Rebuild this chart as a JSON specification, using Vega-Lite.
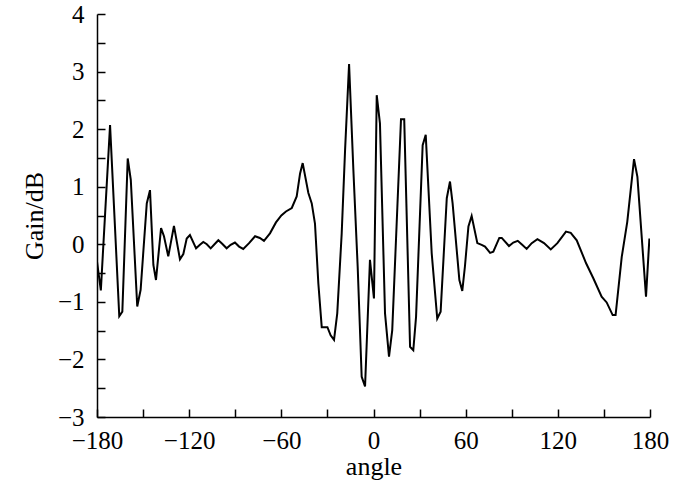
{
  "$schema": "https://vega.github.io/schema/vega-lite/v6.json",
  "autosize": "none",
  "width": 553,
  "height": 403,
  "padding": {"left": 97, "top": 14, "right": 50, "bottom": 73},
  "background": "white",
  "config": {
    "view": {"stroke": null},
    "font": "Liberation Serif",
    "axis": {"grid": false, "domainColor": "black", "tickColor": "black", "labelColor": "black", "titleColor": "black", "labelFont": "Liberation Serif", "titleFont": "Liberation Serif", "labelFontSize": 25, "titleFontSize": 26, "titleFontWeight": "normal", "domainWidth": 1.5, "tickWidth": 1.5}
  },
  "data": {"values": [
    {"angle": -180, "gain": -0.3},
    {"angle": -177.5, "gain": -0.8},
    {"angle": -171.5, "gain": 2.07},
    {"angle": -165.5, "gain": -1.25},
    {"angle": -163.5, "gain": -1.17},
    {"angle": -160, "gain": 1.49},
    {"angle": -158, "gain": 1.12},
    {"angle": -153.8, "gain": -1.08},
    {"angle": -151.6, "gain": -0.79},
    {"angle": -147.6, "gain": 0.71},
    {"angle": -145.5, "gain": 0.94},
    {"angle": -143.3, "gain": -0.36},
    {"angle": -141.6, "gain": -0.62},
    {"angle": -138.3, "gain": 0.28},
    {"angle": -136.4, "gain": 0.14},
    {"angle": -133.6, "gain": -0.21},
    {"angle": -129.9, "gain": 0.32},
    {"angle": -126, "gain": -0.26},
    {"angle": -123.8, "gain": -0.17},
    {"angle": -121.6, "gain": 0.1},
    {"angle": -119.5, "gain": 0.16},
    {"angle": -115.5, "gain": -0.07},
    {"angle": -113, "gain": -0.01},
    {"angle": -110.8, "gain": 0.04},
    {"angle": -108.5, "gain": 0.0},
    {"angle": -106, "gain": -0.07},
    {"angle": -103.5, "gain": 0.0},
    {"angle": -101, "gain": 0.07},
    {"angle": -98.5, "gain": 0.01},
    {"angle": -95.6, "gain": -0.07},
    {"angle": -93, "gain": -0.01},
    {"angle": -90.2, "gain": 0.03},
    {"angle": -87.5, "gain": -0.04},
    {"angle": -84.8, "gain": -0.08},
    {"angle": -81, "gain": 0.02},
    {"angle": -77.1, "gain": 0.14},
    {"angle": -74, "gain": 0.11},
    {"angle": -71.3, "gain": 0.06},
    {"angle": -67.4, "gain": 0.19},
    {"angle": -63.5, "gain": 0.38},
    {"angle": -60, "gain": 0.5},
    {"angle": -57, "gain": 0.57},
    {"angle": -53.2, "gain": 0.63},
    {"angle": -50, "gain": 0.83},
    {"angle": -47.8, "gain": 1.23},
    {"angle": -46.1, "gain": 1.41},
    {"angle": -42.4, "gain": 0.89},
    {"angle": -40.2, "gain": 0.71},
    {"angle": -38.1, "gain": 0.36},
    {"angle": -35.9, "gain": -0.68},
    {"angle": -33.7, "gain": -1.44},
    {"angle": -30, "gain": -1.44},
    {"angle": -27.9, "gain": -1.58},
    {"angle": -25.7, "gain": -1.66},
    {"angle": -23.6, "gain": -1.2},
    {"angle": -20.7, "gain": 0.19},
    {"angle": -18.5, "gain": 1.64},
    {"angle": -15.9, "gain": 3.13},
    {"angle": -13.1, "gain": 1.29},
    {"angle": -10.3, "gain": -0.39},
    {"angle": -7.7, "gain": -2.3},
    {"angle": -5.5, "gain": -2.47},
    {"angle": -2.3, "gain": -0.27},
    {"angle": 0.3, "gain": -0.94},
    {"angle": 2.1, "gain": 2.59},
    {"angle": 4.2, "gain": 2.1},
    {"angle": 7.5, "gain": -1.2},
    {"angle": 10.1, "gain": -1.95},
    {"angle": 12.2, "gain": -1.49},
    {"angle": 17.9, "gain": 2.17},
    {"angle": 20, "gain": 2.17},
    {"angle": 23.8, "gain": -1.78},
    {"angle": 25.9, "gain": -1.84},
    {"angle": 27.7, "gain": -1.26},
    {"angle": 32, "gain": 1.72},
    {"angle": 34, "gain": 1.9},
    {"angle": 37.9, "gain": -0.16},
    {"angle": 41.5, "gain": -1.29},
    {"angle": 43.7, "gain": -1.17},
    {"angle": 47.7, "gain": 0.8},
    {"angle": 49.8, "gain": 1.09},
    {"angle": 51.5, "gain": 0.71},
    {"angle": 55.9, "gain": -0.62},
    {"angle": 57.8, "gain": -0.81},
    {"angle": 59.5, "gain": -0.39},
    {"angle": 61.8, "gain": 0.31},
    {"angle": 63.9, "gain": 0.49},
    {"angle": 67.6, "gain": 0.02},
    {"angle": 70.4, "gain": -0.01},
    {"angle": 72.6, "gain": -0.04},
    {"angle": 75.9, "gain": -0.15},
    {"angle": 78, "gain": -0.13},
    {"angle": 81.9, "gain": 0.11},
    {"angle": 83.5, "gain": 0.11},
    {"angle": 88.2, "gain": -0.03},
    {"angle": 91, "gain": 0.03},
    {"angle": 93.9, "gain": 0.06},
    {"angle": 96.8, "gain": -0.01},
    {"angle": 99.7, "gain": -0.08},
    {"angle": 103, "gain": 0.02},
    {"angle": 106.7, "gain": 0.09},
    {"angle": 111, "gain": 0.02},
    {"angle": 115.4, "gain": -0.09},
    {"angle": 119.7, "gain": 0.02},
    {"angle": 125.3, "gain": 0.22},
    {"angle": 128.4, "gain": 0.2},
    {"angle": 132.3, "gain": 0.07},
    {"angle": 138.4, "gain": -0.33},
    {"angle": 143.1, "gain": -0.59},
    {"angle": 148.5, "gain": -0.91},
    {"angle": 151.8, "gain": -1.01},
    {"angle": 155.7, "gain": -1.23},
    {"angle": 157.6, "gain": -1.23},
    {"angle": 161.6, "gain": -0.22},
    {"angle": 165.2, "gain": 0.39},
    {"angle": 169.6, "gain": 1.48},
    {"angle": 171.8, "gain": 1.17},
    {"angle": 177.4, "gain": -0.91},
    {"angle": 179.6, "gain": 0.1}
  ]},
  "mark": {"type": "line", "color": "black", "strokeWidth": 2, "clip": true},
  "encoding": {
    "x": {
      "field": "angle", "type": "quantitative",
      "scale": {"domain": [-180, 180], "nice": false, "zero": false},
      "axis": {
        "title": "angle", "titlePadding": 0,
        "values": [-180, -150, -120, -90, -60, -30, 0, 30, 60, 90, 120, 150, 180],
        "labelExpr": "datum.value % 60 == 0 ? format(datum.value, 'd') : ''",
        "tickSize": -8, "labelPadding": 19, "labelFlush": false, "labelOverlap": false
      }
    },
    "y": {
      "field": "gain", "type": "quantitative",
      "scale": {"domain": [-3, 4], "nice": false, "zero": false},
      "axis": {
        "title": "Gain/dB", "titlePadding": 10,
        "values": [-3, -2.5, -2, -1.5, -1, -0.5, 0, 0.5, 1, 1.5, 2, 2.5, 3, 3.5, 4],
        "labelExpr": "datum.value % 1 == 0 ? format(datum.value, 'd') : ''",
        "tickSize": -8, "labelPadding": 21, "labelFlush": false, "labelOverlap": false
      }
    }
  }
}
